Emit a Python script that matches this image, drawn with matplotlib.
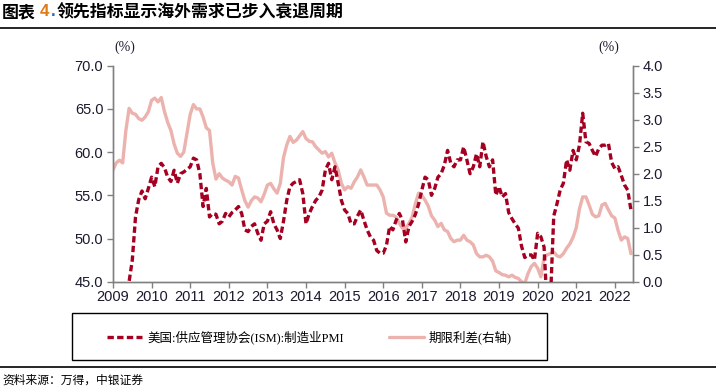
import matplotlib
matplotlib.use("Agg")
import matplotlib.pyplot as plt
import numpy as np
from matplotlib.lines import Line2D
from matplotlib.patches import Rectangle

plt.rcParams['font.family'] = ['Liberation Sans', 'Noto Sans CJK SC', 'DejaVu Sans']

# ---- data (monthly, Jan 2009 - Jun 2022) ----
ism_2009 = [35.5, 35.8, 36.0, 39.4, 41.7, 45.0, 47.5, 52.5, 54.5, 55.5, 54.6, 55.8]
ism_2010 = [57.1, 56.0, 58.3, 58.7, 58.2, 57.1, 56.6, 57.9, 56.4, 57.5, 57.7, 58.0]
ism_2011 = [58.3, 59.3, 59.1, 57.5, 53.7, 55.8, 52.5, 52.9, 52.8, 51.7, 52.0, 52.9]
ism_2012 = [52.5, 53.0, 53.3, 53.7, 52.9, 51.0, 50.8, 51.4, 51.7, 50.6, 49.8, 51.7]
ism_2013 = [52.0, 53.1, 51.7, 51.0, 50.0, 52.0, 54.4, 56.0, 56.4, 56.6, 56.8, 55.2]
ism_2014 = [51.7, 52.9, 53.7, 54.4, 54.8, 55.6, 57.9, 58.7, 56.8, 58.3, 56.4, 54.4]
ism_2015 = [53.3, 52.9, 51.7, 51.7, 52.6, 53.3, 52.1, 51.0, 50.2, 49.8, 48.6, 48.3]
ism_2016 = [48.3, 49.2, 51.4, 51.0, 52.1, 52.9, 52.1, 49.6, 51.4, 52.0, 52.8, 54.0]
ism_2017 = [55.6, 57.1, 56.8, 55.0, 55.8, 57.1, 57.5, 58.5, 60.2, 58.7, 58.3, 59.1]
ism_2018 = [59.1, 60.6, 59.1, 57.5, 58.3, 59.8, 58.3, 61.2, 59.5, 58.3, 59.1, 55.0]
ism_2019 = [56.0, 54.8, 55.2, 53.0, 52.3, 51.7, 51.2, 49.1, 47.8, 48.1, 48.1, 47.5]
ism_2020 = [50.6, 50.2, 49.0, 41.5, 43.1, 52.6, 54.0, 55.6, 56.4, 59.1, 57.9, 60.2]
ism_2021 = [59.1, 60.8, 64.5, 61.2, 61.0, 60.2, 59.5, 60.4, 60.8, 60.8, 61.0, 58.8]
ism_2022 = [58.1, 58.3, 57.3, 56.2, 55.6, 53.3]

spr_2009 = [2.07, 2.20, 2.25, 2.20, 2.80, 3.21, 3.12, 3.10, 3.02, 2.99, 3.05, 3.15]
spr_2010 = [3.36, 3.40, 3.33, 3.41, 3.15, 2.95, 2.80, 2.55, 2.38, 2.32, 2.40, 2.75]
spr_2011 = [3.10, 3.28, 3.20, 3.20, 3.05, 2.85, 2.80, 2.20, 1.90, 2.00, 1.92, 1.88]
spr_2012 = [1.85, 1.79, 1.95, 1.92, 1.70, 1.50, 1.38, 1.50, 1.57, 1.55, 1.48, 1.62]
spr_2013 = [1.79, 1.82, 1.72, 1.64, 1.82, 2.30, 2.53, 2.69, 2.58, 2.62, 2.70, 2.78]
spr_2014 = [2.65, 2.60, 2.59, 2.50, 2.44, 2.38, 2.41, 2.31, 2.38, 2.20, 2.07, 1.82]
spr_2015 = [1.70, 1.76, 1.73, 1.85, 1.94, 2.07, 1.94, 1.79, 1.79, 1.79, 1.79, 1.70]
spr_2016 = [1.57, 1.27, 1.23, 1.23, 1.20, 1.08, 0.99, 0.99, 1.08, 1.20, 1.45, 1.64]
spr_2017 = [1.60, 1.51, 1.40, 1.22, 1.14, 1.02, 1.08, 0.96, 0.93, 0.80, 0.74, 0.77]
spr_2018 = [0.77, 0.86, 0.77, 0.74, 0.68, 0.52, 0.46, 0.46, 0.49, 0.46, 0.38, 0.20]
spr_2019 = [0.17, 0.13, 0.12, 0.09, 0.12, 0.08, 0.06, 0.00, -0.03, 0.15, 0.28, 0.34]
spr_2020 = [0.25, 0.09, 0.45, 0.50, 0.52, 0.55, 0.48, 0.46, 0.52, 0.62, 0.70, 0.82]
spr_2021 = [1.00, 1.35, 1.57, 1.57, 1.42, 1.25, 1.20, 1.22, 1.42, 1.45, 1.33, 1.22]
spr_2022 = [1.18, 0.95, 0.77, 0.83, 0.80, 0.52]

years = list(range(2009, 2023))
year_labels = [str(y) for y in years]
left_ticks = [45.0, 50.0, 55.0, 60.0, 65.0, 70.0]
right_ticks = [0.0, 0.5, 1.0, 1.5, 2.0, 2.5, 3.0, 3.5, 4.0]

ism = np.array(ism_2009 + ism_2010 + ism_2011 + ism_2012 + ism_2013 + ism_2014 + ism_2015
               + ism_2016 + ism_2017 + ism_2018 + ism_2019 + ism_2020 + ism_2021 + ism_2022)
spr = np.array(spr_2009 + spr_2010 + spr_2011 + spr_2012 + spr_2013 + spr_2014 + spr_2015
               + spr_2016 + spr_2017 + spr_2018 + spr_2019 + spr_2020 + spr_2021 + spr_2022)
t = 2009 + np.arange(len(ism)) / 12.0

name_ism = '美国:供应管理协会(ISM):制造业PMI'
name_spr = '期限利差(右轴)'

dark = '#A50021'
pink = '#ECB2AE'
txt = '#1A1A2E'
grey = '#808080'

W, H = 716, 390
fig = plt.figure(figsize=(W/100, H/100), dpi=100)
ax = fig.add_axes([113/W, 1-281.7/H, (633-113)/W, (281.7-65.7)/H])
ax2 = ax.twinx()

l_spr, = ax2.plot(t, spr, color=pink, lw=2.4, solid_capstyle='round', zorder=1)
l_ism, = ax.plot(t, ism, color=dark, lw=2.4, dashes=(1.9, 1.0), zorder=3)
ax.set_zorder(ax2.get_zorder() + 1)
ax.patch.set_visible(False)

ax.set_xlim(2009.0, 2022.47)
ax.set_ylim(45, 70)
ax2.set_ylim(0, 4)
ax.set_xticks(years)
ax.set_xticklabels(year_labels)
ax.set_yticks(left_ticks)
ax.set_yticklabels([f'{v:.1f}' for v in left_ticks])
ax2.set_yticks(right_ticks)
ax2.set_yticklabels([f'{v:.1f}' for v in right_ticks])

for a in (ax, ax2):
    a.spines['top'].set_visible(False)
    for s in ('left', 'right', 'bottom'):
        a.spines[s].set_color(grey)
        a.spines[s].set_linewidth(1.0)
    a.tick_params(axis='both', colors=grey, labelcolor=txt, labelsize=10.5,
                  length=4, width=1.0, direction='out', pad=3)
ax.tick_params(axis='x', pad=2)

fig.text(125/W, 1-47/H, '(%)', ha='center', va='center', fontsize=10,
         family=['Liberation Serif'], color=txt)
fig.text(609/W, 1-47/H, '(%)', ha='center', va='center', fontsize=10,
         family=['Liberation Serif'], color=txt)

# title
tfam = ['Noto Sans CJK SC']
ty = 1-12/H
fig.text(2/W, ty, '图表', ha='left', va='center', fontsize=12.2,
         fontweight='bold', family=tfam, color='black')
fig.text(40/W, ty, '4', ha='left', va='center', fontsize=12.2,
         fontweight='bold', family=['Liberation Sans'], color='#E07B1A')
fig.text(50.5/W, ty, '.', ha='left', va='center', fontsize=12.2,
         fontweight='bold', family=['Liberation Sans'], color='#2E6DB4')
fig.text(57/W, ty, '领先指标显示海外需求已步入衰退周期', ha='left', va='center',
         fontsize=12.2, fontweight='bold', family=tfam, color='black')
fig.add_artist(Line2D([0, 1], [1-28/H, 1-28/H], color='black', lw=1.2,
                      transform=fig.transFigure))

# legend frame + entries
fig.add_artist(Rectangle((72/W, 1-360/H), (547-72)/W, (360-313)/H, transform=fig.transFigure,
                         facecolor='none', edgecolor='black', lw=1.0))
leg = fig.legend(handles=[l_ism, l_spr], labels=[name_ism, name_spr], loc='center',
                 bbox_to_anchor=((72+547)/2/W, 1-337/H), ncol=2, frameon=False,
                 handlelength=2.8, handletextpad=0.4, columnspacing=3.6,
                 prop={'family': ['Liberation Serif', 'Noto Sans CJK SC'], 'size': 9})

fig.add_artist(Line2D([0, 1], [1-367/H, 1-367/H], color='black', lw=1.2,
                      transform=fig.transFigure))
fig.text(2/W, 1-380/H, '资料来源：万得，中银证券', ha='left', va='center', fontsize=8.5,
         family=['Noto Sans CJK SC'], color='black', style='italic')

fig.savefig('out.png', dpi=100)
